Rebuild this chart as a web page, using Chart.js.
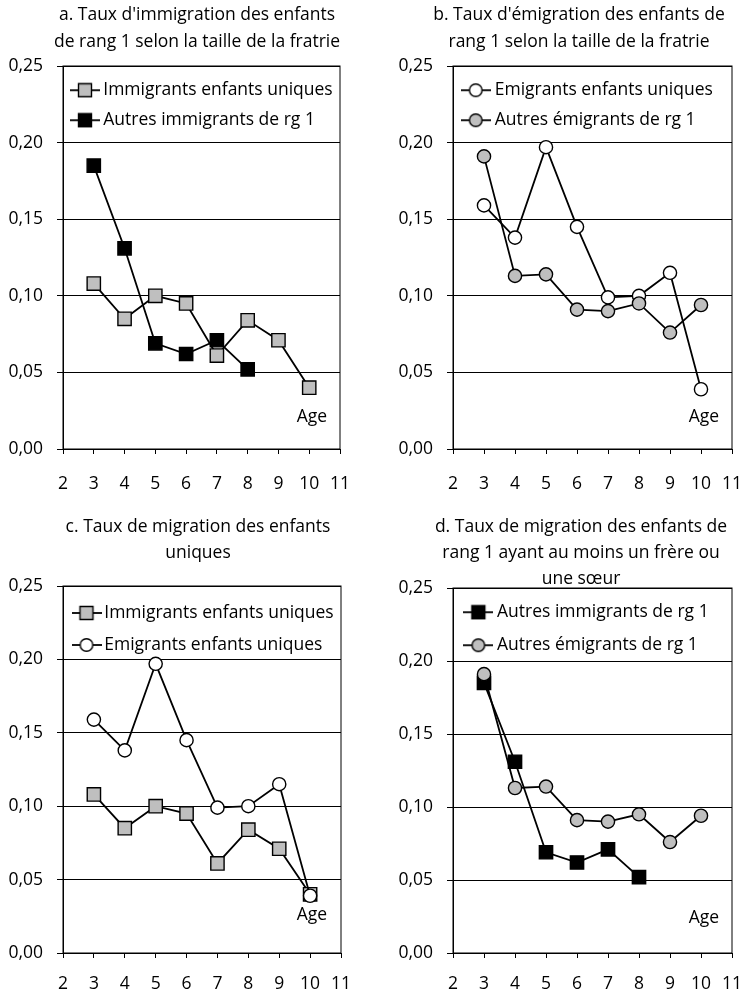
<!DOCTYPE html>
<html>
<head>
<meta charset="utf-8">
<script src="https://cdn.jsdelivr.net/npm/chart.js@4.4.1/dist/chart.umd.min.js"></script>
<style>
  html, body { margin: 0; background: #fff; overflow: hidden; }
  .panel { position: absolute; }
</style>
</head>
<body>
<canvas id="chartA" class="panel" width="384" height="500" style="left:5px;top:0"></canvas>
<canvas id="chartB" class="panel" width="368" height="500" style="left:395px;top:0"></canvas>
<canvas id="chartC" class="panel" width="386" height="496" style="left:5px;top:500px"></canvas>
<canvas id="chartD" class="panel" width="372" height="496" style="left:395px;top:500px"></canvas>
<script>
// Data (age of child, migration rate)
const ages = [3, 4, 5, 6, 7, 8, 9, 10];
const immigrantsUniques = [0.108, 0.085, 0.100, 0.095, 0.061, 0.084, 0.071, 0.040];
const immigrantsAutres = [0.185, 0.131, 0.069, 0.062, 0.071, 0.052];
const emigrantsUniques = [0.159, 0.138, 0.197, 0.145, 0.099, 0.100, 0.115, 0.039];
const emigrantsAutres = [0.191, 0.113, 0.114, 0.091, 0.090, 0.095, 0.076, 0.094];

const FONT = '"Open Sans", "Noto Sans", sans-serif';
const SIZE = 17.5;
const GREY = '#bfbfbf';

function points(values) {
    return values.map((v, i) => ({ x: ages[i], y: v }));
}

// series definitions (styles only)
const series = {
    immU: { label: 'Immigrants enfants uniques', data: immigrantsUniques, shape: 'rect', fill: GREY },
    immA: { label: 'Autres immigrants de rg 1', data: immigrantsAutres, shape: 'rect', fill: '#000' },
    emiU: { label: 'Emigrants enfants uniques', data: emigrantsUniques, shape: 'circle', fill: '#fff' },
    emiA: { label: 'Autres émigrants de rg 1', data: emigrantsAutres, shape: 'circle', fill: GREY }
};

// little line + marker picture for the legend
function legendIcon(s) {
    const c = document.createElement('canvas');
    c.width = 30; c.height = 16;
    const ctx = c.getContext('2d');
    ctx.strokeStyle = '#000';
    ctx.lineWidth = 1.8;
    ctx.beginPath(); ctx.moveTo(0, 8); ctx.lineTo(30, 8); ctx.stroke();
    ctx.fillStyle = s.fill;
    ctx.lineWidth = 1.4;
    ctx.beginPath();
    if (s.shape === 'rect') ctx.rect(8.5, 1.5, 13, 13);
    else ctx.arc(15, 8, 6.3, 0, Math.PI * 2);
    ctx.fill(); ctx.stroke();
    return c;
}

function dataset(s, order) {
    return {
        label: s.label,
        data: points(s.data),
        borderColor: '#000',
        borderWidth: 1.8,
        pointStyle: s.shape,
        pointRadius: s.shape === 'rect' ? 9.4 : 6.6,
        pointBackgroundColor: s.fill,
        pointBorderColor: '#000',
        pointBorderWidth: 1.4,
        order: order,
        icon: legendIcon(s)
    };
}

// box around the plot, legend moved into the plot, "Age" label inside
const framePlugin = {
    id: 'frame',
    afterLayout(chart, args, opts) {
        const a = chart.chartArea;
        chart.legend.top = a.top + opts.legendDy;
        chart.legend.bottom = a.bottom;
    },
    afterDraw(chart, args, opts) {
        const { ctx, chartArea: a } = chart;
        ctx.save();
        ctx.strokeStyle = '#000';
        ctx.lineWidth = 1;
        ctx.strokeRect(a.left, a.top, a.right - a.left, a.bottom - a.top);
        ctx.fillStyle = '#000';
        ctx.font = SIZE + 'px ' + FONT;
        ctx.textAlign = 'center';
        ctx.textBaseline = 'middle';
        ctx.fillText('Age', a.right - opts.ageDx, a.bottom - opts.ageDy);
        ctx.restore();
    }
};

function makePanel(id, title, list, lay) {
    new Chart(document.getElementById(id), {
        type: 'line',
        data: { datasets: list.map((s, i) => dataset(s, list.length - i)) },
        plugins: [framePlugin],
        options: {
            responsive: false,
            animation: false,
            layout: { padding: 0 },
            scales: {
                x: {
                    type: 'linear',
                    min: 2,
                    max: 11,
                    ticks: { stepSize: 1, color: '#000', padding: lay.xPad, font: { family: FONT, size: SIZE } },
                    grid: { drawOnChartArea: false, color: '#000', tickLength: 5 },
                    border: { color: '#000', width: 1 },
                    afterFit: sc => { sc.height = lay.xHeight; sc.paddingRight = lay.padRight; }
                },
                y: {
                    min: 0,
                    max: 0.25,
                    ticks: {
                        stepSize: 0.05,
                        color: '#000',
                        padding: 14,
                        font: { family: FONT, size: SIZE },
                        callback: v => v.toFixed(2).replace('.', ',')
                    },
                    grid: { color: '#000', tickLength: 6 },
                    border: { color: '#000', width: 1 },
                    afterFit: sc => { sc.width = 58; }
                }
            },
            plugins: {
                frame: { ageDx: lay.ageDx, ageDy: lay.ageDy, legendDy: lay.legendDy },
                tooltip: { enabled: false },
                title: {
                    display: true,
                    text: title,
                    color: '#000',
                    font: { family: FONT, size: SIZE, weight: 'normal', lineHeight: lay.titleLine + 'px' },
                    padding: { top: lay.titleTop, bottom: lay.titleBottom }
                },
                legend: {
                    position: 'chartArea',
                    align: 'start',
                    labels: {
                        usePointStyle: true,
                        pointStyleWidth: lay.iconBox,
                        padding: lay.legendPad,
                        color: '#000',
                        font: { family: FONT, size: SIZE },
                        sort: (a, b) => a.datasetIndex - b.datasetIndex,
                        generateLabels: chart => Chart.defaults.plugins.legend.labels.generateLabels(chart)
                            .map(item => Object.assign(item, { pointStyle: chart.data.datasets[item.datasetIndex].icon }))
                    }
                }
            }
        }
    });
}

makePanel('chartA', ["a. Taux d'immigration des enfants", 'de rang 1 selon la taille de la fratrie'],
    [series.immU, series.immA],
    { padRight: 49, xHeight: 51, xPad: 20, titleLine: 27, titleTop: 1.5, titleBottom: 10.5,
      legendDy: 3, legendPad: 12.5, iconBox: 19, ageDx: 28, ageDy: 32 });

makePanel('chartB', ["b. Taux d'émigration des enfants de", 'rang 1 selon la taille de la fratrie'],
    [series.emiU, series.emiA],
    { padRight: 31, xHeight: 51, xPad: 20, titleLine: 27, titleTop: 1.5, titleBottom: 10.5,
      legendDy: 3, legendPad: 12.5, iconBox: 20.5, ageDx: 28, ageDy: 32 });

makePanel('chartC', ['c. Taux de migration des enfants', 'uniques'],
    [series.immU, series.emiU],
    { padRight: 50, xHeight: 43, xPad: 16, titleLine: 26, titleTop: 14, titleBottom: 20,
      legendDy: 3.75, legendPad: 14.5, iconBox: 18, ageDx: 29, ageDy: 38 });

makePanel('chartD', ['d. Taux de migration des enfants de', 'rang 1 ayant au moins un frère ou', 'une sœur'],
    [series.immA, series.emiA],
    { padRight: 35, xHeight: 43, xPad: 16, titleLine: 26, titleTop: 14, titleBottom: -4,
      legendDy: 0, legendPad: 15.5, iconBox: 19.75, ageDx: 28, ageDy: 35 });
</script>
</body>
</html>
